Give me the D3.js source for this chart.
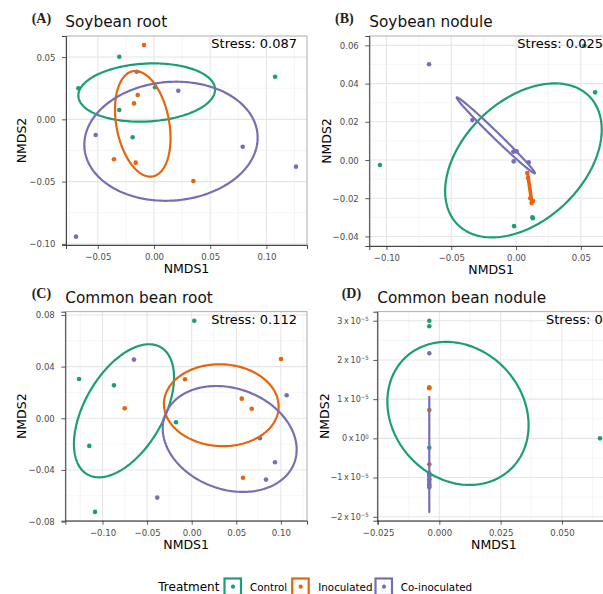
<!DOCTYPE html>
<html><head><meta charset="utf-8">
<script src="https://cdn.jsdelivr.net/npm/d3@7"></script>
<style>body{margin:0;background:#fff} svg{display:block}</style>
</head><body><svg id="c" width="603" height="594"></svg>
<script>
const treatments = ["Control", "Inoculated", "Co-inoculated"];
const colors = ["#1B9E77", "#E8640A", "#7570B3"];

// ---- Panel A: Soybean root ----
const soyRootControl = [[-0.0673,0.0249],[-0.0309,0.0502],[0.1077,0.0342],[-0.0309,0.0075],[-0.0190,-0.0144],[0.0009,0.0257]];
const soyRootInoc = [[-0.0089,0.0596],[-0.0145,0.0195],[-0.0178,0.0128],[-0.0356,-0.0321],[-0.0163,-0.0348],[0.0350,-0.0495]];
const soyRootCoin = [[-0.0154,0.0382],[0.0216,0.0230],[-0.0519,-0.0126],[0.0789,-0.0220],[0.1263,-0.0380],[-0.0694,-0.0942]];
// ellipse: [centre x, centre y, half-range x, half-range y, correlation]
const soyRootEllipses = [[-0.0065,0.0215,0.0608,0.0234,0.10],[-0.0100,-0.0036,0.0247,0.0424,-0.27],[0.0151,-0.0176,0.0771,0.0478,0.06]];
const soyRootXDomain = [-0.0783, 0.1361];
const soyRootYDomain = [-0.1009, 0.0669];
const soyRootXTicks = [-0.05, 0, 0.05, 0.10];
const soyRootYTicks = [-0.10, -0.05, 0, 0.05];

// ---- Panel B: Soybean nodule ----
const soyNodControl = [[-0.1050,-0.0026],[-0.0015,-0.0346],[0.0126,-0.0300],[0.0130,-0.0305],[0.0610,0.0354],[0.0527,0.0598]];
const soyNodInoc = [[0.0087,-0.0068],[0.0093,-0.0094],[0.0120,-0.0225],[0.0131,-0.0215],[0.0110,-0.0200]];
const soyNodCoin = [[-0.0671,0.0501],[-0.0337,0.0209],[-0.0021,0.0043],[0.0005,0.0045],[-0.0018,-0.0007],[0.0098,-0.0012]];
const soyNodEllipses = [[0.0057,-0.0002,0.0604,0.0403,0.40],[0.0106,-0.0147,0.0019,0.0084,-0.95],[-0.0156,0.0129,0.0302,0.0199,-0.993]];
const soyNodXDomain = [-0.1132, 0.0748];
const soyNodYDomain = [-0.0450, 0.0649];
const soyNodXTicks = [-0.10, -0.05, 0, 0.05];
const soyNodYTicks = [-0.04, -0.02, 0, 0.02, 0.04, 0.06];

// ---- Panel C: Common bean root ----
const beanRootControl = [[0.0029,0.0755],[-0.1263,0.0304],[-0.0871,0.0255],[-0.0176,-0.0031],[-0.1148,-0.0214],[-0.1084,-0.0725]];
const beanRootInoc = [[0.1001,0.0459],[-0.0075,0.0302],[0.0561,0.0152],[0.0673,0.0074],[-0.0751,0.0077],[0.0575,-0.0460]];
const beanRootCoin = [[-0.0647,0.0454],[0.1065,0.0178],[0.0766,-0.0155],[0.0934,-0.0341],[0.0833,-0.0475],[-0.0386,-0.0614]];
const beanRootEllipses = [[-0.0759,0.0058,0.0561,0.0515,0.50],[0.0332,0.0101,0.0643,0.0317,-0.03],[0.0426,-0.0160,0.0751,0.0410,-0.20]];
const beanRootXDomain = [-0.1417, 0.1293];
const beanRootYDomain = [-0.0793, 0.0825];
const beanRootXTicks = [-0.10, -0.05, 0, 0.05, 0.10];
const beanRootYTicks = [-0.08, -0.04, 0, 0.04, 0.08];

// ---- Panel D: Common bean nodule ----
const beanNodControl = [[-0.0041,3.00e-5],[-0.0041,2.86e-5],[-0.0041,-0.24e-5],[-0.0041,-0.89e-5],[-0.0041,-0.95e-5],[0.0655,0.0]];
const beanNodInoc = [[-0.0041,1.30e-5],[-0.0041,1.28e-5],[-0.0041,0.72e-5],[-0.0041,-0.66e-5],[-0.0041,-1.04e-5],[-0.0041,-1.17e-5]];
const beanNodCoin = [[-0.0041,2.17e-5],[-0.0041,-0.96e-5],[-0.0041,-1.11e-5],[-0.0041,-1.25e-5],[-0.0041,-1.05e-5],[-0.0041,-1.20e-5]];
const beanNodEllipses = [[0.0076,0.636e-5,0.0288,1.824e-5,-0.165], null, [-0.0041,-0.41e-5,0.0000001,1.47e-5,0]];
const beanNodXDomain = [-0.0253, 0.0698];
const beanNodYDomain = [-2.10e-5, 3.23e-5];
const beanNodXTicks = [-0.025, 0, 0.025, 0.05];
const beanNodYTicks = [-2e-5, -1e-5, 0, 1e-5, 2e-5, 3e-5];
const beanNodYMantissa = ["−2", "−1", "0", "1", "2", "3"];
const beanNodYExponent = ["−5", "−5", "0", "−5", "−5", "−5"];

const svg = d3.select("#c");
const TICKFONT = "'Liberation Sans Narrow','DejaVu Sans Condensed',sans-serif";
const SANS = "'DejaVu Sans',sans-serif";
const minus = s => s.replace("-", "−");

function minorTicks(ticks, domain) {
  const step = ticks[1] - ticks[0];
  const out = [];
  for (let v = ticks[0] - step / 2; v <= domain[1] + 1e-12; v += step) {
    if (v >= domain[0]) out.push(v);
  }
  return out;
}

function drawPanel(cfg, idx) {
  const b = cfg.box;
  const g = svg.append("g");
  const x = d3.scaleLinear().domain(cfg.xDomain).range([b.l, b.r]);
  const y = d3.scaleLinear().domain(cfg.yDomain).range([b.b, b.t]);
  const clipId = "clip" + idx;
  svg.append("clipPath").attr("id", clipId).append("rect")
    .attr("x", b.l).attr("y", b.t).attr("width", b.r - b.l).attr("height", b.b - b.t);

  const grid = g.append("g").attr("clip-path", `url(#${clipId})`);
  grid.selectAll(".mx").data(minorTicks(cfg.xTicks, cfg.xDomain)).join("line")
    .attr("x1", d => x(d)).attr("x2", d => x(d)).attr("y1", b.t).attr("y2", b.b)
    .attr("stroke", "#f0f0f0").attr("stroke-width", 0.6);
  grid.selectAll(".my").data(minorTicks(cfg.yTicks, cfg.yDomain)).join("line")
    .attr("y1", d => y(d)).attr("y2", d => y(d)).attr("x1", b.l).attr("x2", b.r)
    .attr("stroke", "#f0f0f0").attr("stroke-width", 0.6);
  grid.selectAll(".Mx").data(cfg.xTicks).join("line")
    .attr("x1", d => x(d)).attr("x2", d => x(d)).attr("y1", b.t).attr("y2", b.b)
    .attr("stroke", "#e6e6e6").attr("stroke-width", 1.1);
  grid.selectAll(".My").data(cfg.yTicks).join("line")
    .attr("y1", d => y(d)).attr("y2", d => y(d)).attr("x1", b.l).attr("x2", b.r)
    .attr("stroke", "#e6e6e6").attr("stroke-width", 1.1);

  const marks = g.append("g").attr("clip-path", `url(#${clipId})`);
  cfg.series.forEach((pts, i) => {
    marks.append("g").selectAll("circle").data(pts).join("circle")
      .attr("cx", d => x(d[0])).attr("cy", d => y(d[1])).attr("r", 2.3)
      .attr("fill", colors[i]);
  });
  const line = d3.line().x(d => x(d[0])).y(d => y(d[1])).curve(d3.curveLinearClosed);
  cfg.ellipses.forEach((e, i) => {
    if (!e) return;
    const [cx, cy, rx, ry, r] = e;
    const s = Math.sqrt(1 - r * r);
    const pts = d3.range(0, 200).map(k => {
      const t = k / 200 * 2 * Math.PI;
      return [cx + rx * Math.cos(t), cy + ry * (r * Math.cos(t) + s * Math.sin(t))];
    });
    marks.append("path").attr("d", line(pts)).attr("fill", "none")
      .attr("stroke", colors[i]).attr("stroke-width", 2.2).attr("stroke-linejoin", "round");
  });

  // border
  g.append("rect").attr("x", b.l).attr("y", b.t).attr("width", b.r - b.l).attr("height", b.b - b.t)
    .attr("fill", "none").attr("stroke", "#9a9a9a").attr("stroke-width", 0.8);

  // axes
  const ax = g.append("g").attr("transform", `translate(0,${b.b})`)
    .call(d3.axisBottom(x).tickValues(cfg.xTicks).tickSize(4).tickPadding(4.5).tickFormat(cfg.xFmt));
  const ay = g.append("g").attr("transform", `translate(${b.l},0)`)
    .call(d3.axisLeft(y).tickValues(cfg.yTicks).tickSize(4).tickPadding(6.5).tickFormat(cfg.yFmt || (() => "")));
  [ax, ay].forEach(a => {
    a.select(".domain").attr("stroke", "#333").attr("stroke-width", 0.9);
    a.selectAll(".tick line").attr("stroke", "#333").attr("stroke-width", 0.8);
    a.selectAll("text").attr("fill", "#4d4d4d").style("font-family", TICKFONT).style("font-size", "9.5px");
  });
  if (cfg.yMantissa) {
    const lab = g.append("g");
    cfg.yTicks.forEach((v, i) => {
      const t = lab.append("text").attr("x", b.l - 8.5).attr("y", y(v)).attr("dy", "0.32em")
        .attr("text-anchor", "end").attr("fill", "#4d4d4d")
        .style("font-family", TICKFONT).style("font-size", "9px");
      t.append("tspan").text(cfg.yMantissa[i] + "\u2009x\u200910");
      t.append("tspan").attr("dy", "-0.45em").style("font-size", "6px").text(cfg.yExponent[i]);
    });
  }

  // axis titles
  g.append("text").attr("x", (b.l + b.r) / 2).attr("y", b.b + 28).attr("text-anchor", "middle")
    .style("font-family", SANS).style("font-size", "12.5px").attr("fill", "#000").text("NMDS1");
  g.append("text").attr("transform", `translate(${cfg.yTitleX},${(b.t + b.b) / 2}) rotate(-90)`)
    .attr("text-anchor", "middle").style("font-family", SANS).style("font-size", "12.5px")
    .attr("fill", "#000").text("NMDS2");

  // tag + title
  g.append("text").attr("x", cfg.tagX).attr("y", cfg.tagY).style("font-family", "'Liberation Serif','DejaVu Serif',serif")
    .style("font-size", "14px").style("font-weight", "bold").attr("fill", "#222").text(cfg.tag);
  g.append("text").attr("x", cfg.titleX).attr("y", cfg.titleY).style("font-family", SANS)
    .style("font-size", "15.3px").attr("fill", "#111").text(cfg.title);

  // stress
  const st = g.append("text").attr("y", b.t + 12.3).style("font-family", SANS).style("font-size", "13px")
    .attr("fill", "#000").text(cfg.stress);
  if (cfg.stressStart) st.attr("x", cfg.stressStart).attr("text-anchor", "start");
  else st.attr("x", b.r - 10).attr("text-anchor", "end");
}

const f2 = d => minus(d3.format(".2f")(d));
const f3 = d => minus(d3.format(".3f")(d));

const panels = [
  { box: {l: 66, r: 307, t: 36, b: 245}, xDomain: soyRootXDomain, yDomain: soyRootYDomain,
    xTicks: soyRootXTicks, yTicks: soyRootYTicks, xFmt: f2, yFmt: f2,
    series: [soyRootControl, soyRootInoc, soyRootCoin], ellipses: soyRootEllipses,
    tag: "(A)", tagX: 31.7, tagY: 22.5, title: "Soybean root", titleX: 65.3, titleY: 26.5,
    stress: "Stress: 0.087", yTitleX: 26 },
  { box: {l: 369.3, r: 613, t: 36, b: 246}, xDomain: soyNodXDomain, yDomain: soyNodYDomain,
    xTicks: soyNodXTicks, yTicks: soyNodYTicks, xFmt: f2, yFmt: f2,
    series: [soyNodControl, soyNodInoc, soyNodCoin], ellipses: soyNodEllipses,
    tag: "(B)", tagX: 335, tagY: 22.5, title: "Soybean nodule", titleX: 369.3, titleY: 26.5,
    stress: "Stress: 0.025", yTitleX: 331 },
  { box: {l: 65.3, r: 307, t: 311.7, b: 520.7}, xDomain: beanRootXDomain, yDomain: beanRootYDomain,
    xTicks: beanRootXTicks, yTicks: beanRootYTicks, xFmt: f2, yFmt: f2,
    series: [beanRootControl, beanRootInoc, beanRootCoin], ellipses: beanRootEllipses,
    tag: "(C)", tagX: 31.7, tagY: 298, title: "Common bean root", titleX: 65.3, titleY: 302.5,
    stress: "Stress: 0.112", yTitleX: 26 },
  { box: {l: 377.3, r: 610.5, t: 311.7, b: 520.7}, xDomain: beanNodXDomain, yDomain: beanNodYDomain,
    xTicks: beanNodXTicks, yTicks: beanNodYTicks, xFmt: f3, yFmt: null,
    yMantissa: beanNodYMantissa, yExponent: beanNodYExponent,
    series: [beanNodControl, beanNodInoc, beanNodCoin], ellipses: beanNodEllipses,
    tag: "(D)", tagX: 341.7, tagY: 298, title: "Common bean nodule", titleX: 377.3, titleY: 302.5,
    stress: "Stress: 0", stressStart: 546, yTitleX: 329 }
];
panels.forEach(drawPanel);

// legend
const lg = svg.append("g");
lg.append("text").attr("x", 158.3).attr("y", 591).style("font-family", SANS).style("font-size", "12px")
  .attr("fill", "#000").text("Treatment");
const keyX = [224.5, 292.2, 375.5];
const labX = [250, 318.3, 400.7];
treatments.forEach((t, i) => {
  lg.append("rect").attr("x", keyX[i]).attr("y", 578.5).attr("width", 16.5).attr("height", 16.5)
    .attr("fill", "#fff").attr("stroke", colors[i]).attr("stroke-width", 2.2);
  lg.append("circle").attr("cx", keyX[i] + 8.5).attr("cy", 586.7).attr("r", 2.1).attr("fill", colors[i]);
  lg.append("text").attr("x", labX[i]).attr("y", 591).style("font-family", SANS).style("font-size", "10.3px")
    .attr("fill", "#000").text(t);
});
</script></body></html>
